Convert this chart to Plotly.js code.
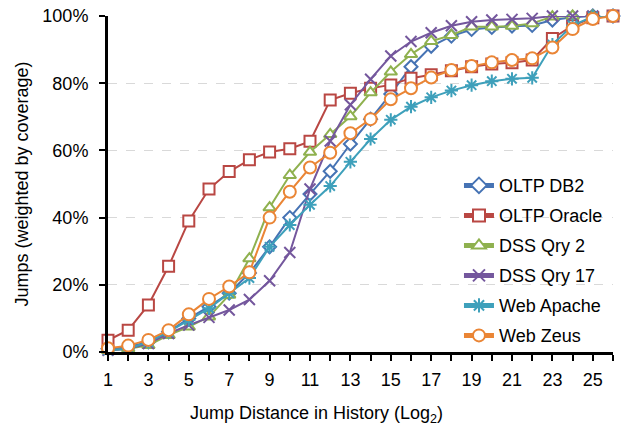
<!DOCTYPE html>
<html>
<head>
<meta charset="utf-8">
<script src="https://cdn.plot.ly/plotly-3.0.1.min.js"></script>
<style>html,body{margin:0;padding:0;background:#fff;}#chart{width:629px;height:427px;}</style>
</head>
<body>
<div id="chart"></div>
<script>
const distance = [1,2,3,4,5,6,7,8,9,10,11,12,13,14,15,16,17,18,19,20,21,22,23,24,25,26];
const xTickVals = [1,3,5,7,9,11,13,15,17,19,21,23,25];
const xTickText = ['1','3','5','7','9','11','13','15','17','19','21','23','25'];
const yTickVals = [0,20,40,60,80,100];
const yTickText = ['0%','20%','40%','60%','80%','100%'];

const seriesNames = ['OLTP DB2','OLTP Oracle','DSS Qry 2','DSS Qry 17','Web Apache','Web Zeus'];
const oltpDB2   = [1,1.5,3,6,10,13.5,17.5,23.5,31.3,40,47,53.8,61.9,69.3,76.8,84.9,91,94,96,96.6,97,97.2,98.8,99.6,100,100];
const oltpOracle= [3.5,6.5,14,25.5,39,48.5,53.7,57.2,59.5,60.5,62.7,75,77,78.5,79.5,81.5,82.5,83.7,84.9,85.7,86.1,86.9,93.3,97.1,99.5,100];
const dssQry2   = [0.5,1,2,5,7.5,10.5,17,27.8,43,52.6,59.5,64.8,70.1,77.2,83.4,88.6,92.5,94.3,96.8,96.8,97,97.8,99.8,100,100,100];
const dssQry17  = [0.5,1,2.5,5.5,8,10.3,12.5,15.6,21.2,29.6,48.5,62.8,73.6,81.2,88.1,92.4,95,97.1,98.3,98.8,99,99.3,100,100,100,100];
const webApache = [0.5,1,3,6,9.5,13,17.5,22,31.3,37.8,43.8,49.4,56.6,63.4,69.1,73,75.8,77.8,79.4,80.6,81.3,81.6,91.5,97.2,99.8,100];
const webZeus   = [1.1,1.9,3.6,6.5,11.2,15.8,19.5,23.7,40,47.7,54.9,59.3,65.1,69.3,75.2,78.5,81.7,83.9,85.1,86.2,86.9,87.4,90.6,96.1,99.1,100];

const seriesValues = [oltpDB2, oltpOracle, dssQry2, dssQry17, webApache, webZeus];
const colors = ['#4673b4','#b94743','#8fb14f','#74579d','#3ea0bb','#ea8535'];
const symbols = ['diamond','square','triangle-up','x-thin','asterisk','circle'];
const sizes = [10,11,11,11,11,12];

const FONT = '"Liberation Sans", Arial, sans-serif';

const traces = seriesNames.map((n,i)=>({
  type:'scatter', mode:'lines+markers', name:n,
  x: distance, y: seriesValues[i],
  legendgroup: 'g'+i,
  cliponaxis:false,
  line:{color:colors[i], width:2},
  marker:{symbol:symbols[i], size:sizes[i], color:'#ffffff',
          line:{color:colors[i], width:2}}
}));

const layout = {
  width:629, height:427,
  margin:{l:108, r:16, t:16, b:75},
  paper_bgcolor:'#ffffff', plot_bgcolor:'#ffffff',
  font:{family:FONT, size:18, color:'#000'},
  showlegend:true,
  legend:{x:0.695, xanchor:'left', y:0.55, yanchor:'top',
          bgcolor:'rgba(255,255,255,0)', borderwidth:0,
          font:{family:FONT, size:18, color:'#000'},
          tracegroupgap:3.6, itemsizing:'constant'},
  xaxis:{
    range:[1,26], tickmode:'array', tickvals:xTickVals, ticktext:xTickText,
    showgrid:false, zeroline:false,
    showline:true, linecolor:'#000', linewidth:3,
    ticks:'outside', ticklen:6, tickwidth:2, tickcolor:'#000',
    minor:{tickmode:'linear', tick0:1, dtick:1, ticks:'outside', ticklen:6, tickwidth:2, tickcolor:'#000', showgrid:false},
    ticklabelstandoff:3,
    tickfont:{family:FONT, size:18, color:'#000'}
  },
  yaxis:{
    range:[0,100], tickmode:'array', tickvals:yTickVals, ticktext:yTickText,
    showgrid:true, gridcolor:'#d9d9d9', griddash:'dash', gridwidth:1,
    zeroline:false,
    showline:true, linecolor:'#000', linewidth:3,
    ticks:'outside', ticklen:6, tickwidth:2, tickcolor:'#000',
    ticklabelstandoff:7,
    tickfont:{family:FONT, size:18, color:'#000'},
    title:{text:'Jumps (weighted by coverage)', font:{family:FONT, size:18, color:'#000'}, standoff:10}
  },
  annotations:[{
    text:'Jump Distance in History (Log<sub>2</sub>)',
    xref:'paper', yref:'paper', x:(316-108)/505, y:(352-414)/336,
    xanchor:'center', yanchor:'middle', showarrow:false,
    font:{family:FONT, size:18, color:'#000'}
  }]
};

Plotly.newPlot('chart', traces, layout, {displayModeBar:false, staticPlot:true});
</script>
</body>
</html>
